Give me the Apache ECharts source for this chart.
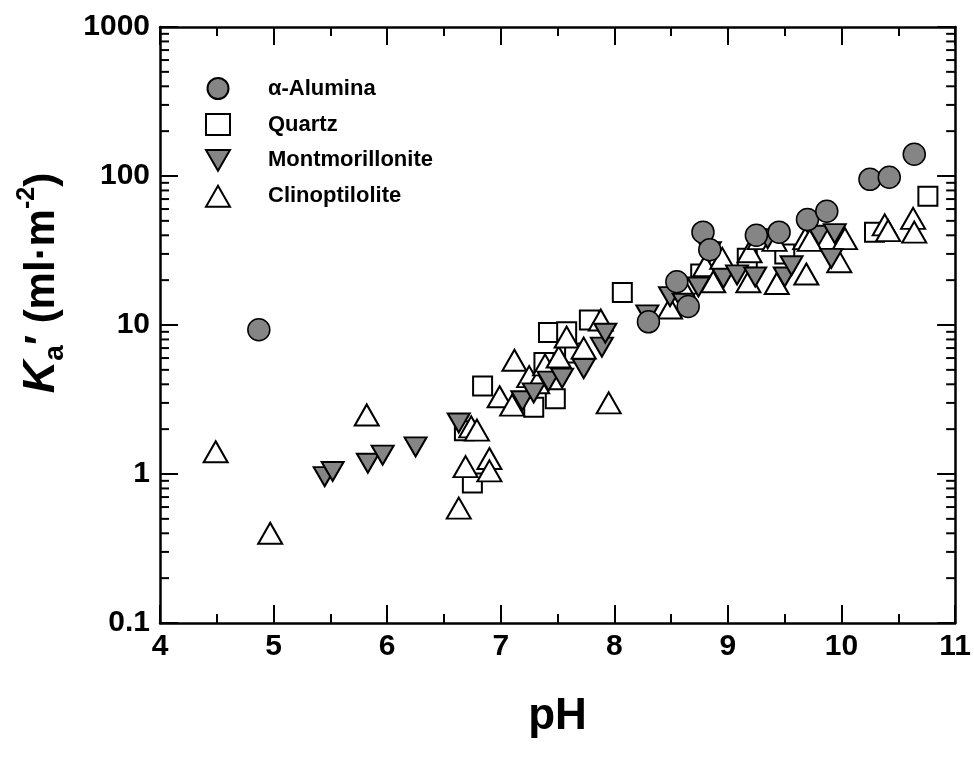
<!DOCTYPE html>
<html>
<head>
<meta charset="utf-8">
<script src="https://cdn.jsdelivr.net/npm/echarts@6/dist/echarts.min.js"></script>
<style>html,body{margin:0;padding:0;background:#fff;}#c{width:974px;height:760px;}</style>
</head>
<body>
<div id="c"></div>
<script>
// ---- data ----
const aluminaPH = [4.87, 8.30, 8.55, 8.65, 8.78, 8.84, 9.25, 9.45, 9.70, 9.87, 10.25, 10.42, 10.64];
const aluminaK  = [9.3, 10.5, 19.5, 13.3, 42, 32, 40, 42, 51, 58, 95, 98, 140];

const quartzPH = [6.75, 6.68, 6.84, 7.29, 7.38, 7.42, 7.48, 7.58, 7.65, 7.78, 8.07, 8.76, 9.17, 9.50, 10.29, 10.76];
const quartzK  = [0.87, 1.95, 3.9, 2.8, 5.6, 8.9, 3.2, 9.0, 6.5, 10.8, 16.5, 22, 28, 30, 42, 73];

const montPH = [5.45, 5.52, 5.83, 5.96, 6.25, 6.63, 7.19, 7.29, 7.42, 7.54, 7.73, 7.89, 7.92, 8.29, 8.49, 8.61, 8.74, 8.84, 8.96, 9.08, 9.24, 9.35, 9.50, 9.56, 9.80, 9.91, 9.94];
const montK  = [0.96, 1.04, 1.18, 1.34, 1.52, 2.2, 3.1, 3.5, 4.2, 4.4, 5.1, 7.1, 8.8, 11.7, 15.5, 14, 18, 31, 20.6, 21.7, 21, 38, 21, 25, 40, 28, 41];

const clinoPH = [4.49, 4.97, 5.82, 6.63, 6.69, 6.74, 6.79, 6.90, 6.90, 6.99, 7.10, 7.12, 7.25, 7.32, 7.39, 7.51, 7.58, 7.73, 7.88, 7.95, 8.49, 8.61, 8.80, 8.87, 8.95, 9.18, 9.19, 9.28, 9.41, 9.43, 9.68, 9.69, 9.72, 9.98, 10.03, 10.38, 10.41, 10.63, 10.64];
const clinoK  = [1.41, 0.40, 2.49, 0.59, 1.12, 2.07, 1.97, 1.27, 1.05, 3.3, 2.9, 5.8, 4.5, 4.1, 5.4, 6.1, 8.3, 7.0, 10.8, 3.0, 13, 17.6, 25, 19.5, 28, 19.5, 31, 38, 37, 19, 38, 22, 37, 26.6, 38, 47, 43, 52, 42];

const seriesNames = ['α-Alumina', 'Quartz', 'Montmorillonite', 'Clinoptilolite'];
const xTicks = [4, 5, 6, 7, 8, 9, 10, 11];
const yTickLabels = ['0.1', '1', '10', '100', '1000'];
const yMinorTicks = [0.2, 0.3, 0.4, 0.5, 0.6, 0.7, 0.8, 0.9,
                     2, 3, 4, 5, 6, 7, 8, 9,
                     20, 30, 40, 50, 60, 70, 80, 90,
                     200, 300, 400, 500, 600, 700, 800, 900];

function pairs(xs, ys) { return xs.map((x, i) => [x, ys[i]]); }

const FONT = '"Liberation Sans", Arial, sans-serif';
const downTri = 'path://M0,0L2,0L1,1.732Z';

const chart = echarts.init(document.getElementById('c'), null, {renderer: 'canvas'});

const axisLineStyle = {color: '#000', width: 2.5};

const option = {
  animation: false,
  backgroundColor: '#fff',
  grid: {left: 160, right: 17, top: 27, bottom: 137, containLabel: false},
  legend: {
    orient: 'vertical',
    left: 200,
    top: 72,
    itemWidth: 24,
    itemHeight: 21,
    itemGap: 13,
    data: [
      {name: seriesNames[0], icon: 'circle'},
      {name: seriesNames[1], icon: 'rect'},
      {name: seriesNames[2], icon: downTri},
      {name: seriesNames[3], icon: 'triangle'}
    ],
    textStyle: {fontFamily: FONT, fontWeight: 'bold', fontSize: 22, lineHeight: 22, color: '#000', padding: [0, 0, 0, 33]}
  },
  xAxis: [{
    type: 'value', min: 4, max: 11, interval: 1, position: 'bottom',
    axisLine: {show: true, lineStyle: axisLineStyle},
    axisTick: {show: true, inside: true, length: 18, lineStyle: {color: '#000', width: 2}},
    minorTick: {show: true, splitNumber: 2, length: 9, lineStyle: {color: '#000', width: 2}},
    splitLine: {show: false},
    axisLabel: {margin: 9, fontFamily: FONT, fontWeight: 'bold', fontSize: 30, color: '#000',
      formatter: v => xTicks.indexOf(v) >= 0 ? String(v) : ''},
    name: 'pH', nameLocation: 'middle', nameGap: 72,
    nameTextStyle: {fontFamily: FONT, fontWeight: 'bold', fontSize: 44, color: '#000'}
  }, {
    type: 'value', min: 4, max: 11, interval: 1, position: 'top',
    axisLine: {show: true, lineStyle: axisLineStyle},
    axisTick: {show: true, inside: true, length: 18, lineStyle: {color: '#000', width: 2}},
    minorTick: {show: true, splitNumber: 2, length: 9, lineStyle: {color: '#000', width: 2}},
    splitLine: {show: false},
    axisLabel: {show: false}
  }],
  yAxis: [{
    type: 'log', logBase: 10, min: 0.1, max: 1000, position: 'left',
    axisLine: {show: true, lineStyle: axisLineStyle},
    axisTick: {show: true, inside: true, length: 18, lineStyle: {color: '#000', width: 2}},
    splitLine: {show: false},
    axisLabel: {margin: 10, fontFamily: FONT, fontWeight: 'bold', fontSize: 30, color: '#000',
      formatter: function (v) {
        const l = Math.round(Math.log10(v)) + 1;
        return yTickLabels[l] !== undefined ? yTickLabels[l] : '';
      }}
  }, {
    type: 'log', logBase: 10, min: 0.1, max: 1000, position: 'right',
    axisLine: {show: true, lineStyle: axisLineStyle},
    axisTick: {show: true, inside: true, length: 18, lineStyle: {color: '#000', width: 2}},
    splitLine: {show: false},
    axisLabel: {show: false}
  }],
  graphic: [{
    type: 'text',
    x: 42, y: 283,
    rotation: Math.PI / 2,
    style: {
      text: '{k|K}{s|a}{n|\u2032 (ml·m}{p|-2}{n|)}',
      align: 'center', verticalAlign: 'middle',
      rich: {
        k: {fontFamily: FONT, fontWeight: 'bold', fontStyle: 'italic', fontSize: 45, lineHeight: 54, verticalAlign: 'middle', fill: '#000'},
        s: {fontFamily: FONT, fontWeight: 'bold', fontSize: 28, lineHeight: 54, verticalAlign: 'bottom', fill: '#000'},
        n: {fontFamily: FONT, fontWeight: 'bold', fontSize: 42, lineHeight: 54, verticalAlign: 'middle', fill: '#000'},
        p: {fontFamily: FONT, fontWeight: 'bold', fontSize: 25, lineHeight: 54, verticalAlign: 'top', fill: '#000'}
      }
    }
  }],
  series: [
    {
      name: seriesNames[1], type: 'scatter', data: pairs(quartzPH, quartzK),
      symbol: 'rect', symbolSize: 19,
      itemStyle: {color: '#fff', borderColor: '#000', borderWidth: 2, opacity: 1}
    },
    {
      name: seriesNames[3], type: 'scatter', data: pairs(clinoPH, clinoK),
      symbol: 'triangle', symbolSize: [24, 21],
      itemStyle: {color: '#fff', borderColor: '#000', borderWidth: 2, opacity: 1}
    },
    {
      name: seriesNames[2], type: 'scatter', data: pairs(montPH, montK),
      symbol: downTri, symbolSize: [22, 19],
      itemStyle: {color: '#858585', borderColor: '#000', borderWidth: 2, opacity: 1}
    },
    {
      name: seriesNames[0], type: 'scatter', data: pairs(aluminaPH, aluminaK),
      symbol: 'circle', symbolSize: 22,
      itemStyle: {color: '#858585', borderColor: '#000', borderWidth: 1.5, opacity: 1}
    },
    {
      name: 'yMinorTicks', type: 'custom', silent: true, z: 5,
      data: yMinorTicks.map(v => [4, v]),
      renderItem: function (params, api) {
        const v = api.value(1);
        const pL = api.coord([4, v]);
        const pR = api.coord([11, v]);
        const st = {stroke: '#000', lineWidth: 2};
        return {
          type: 'group',
          children: [
            {type: 'line', shape: {x1: pL[0], y1: pL[1], x2: pL[0] + 9, y2: pL[1]}, style: st},
            {type: 'line', shape: {x1: pR[0], y1: pR[1], x2: pR[0] - 9, y2: pR[1]}, style: st}
          ]
        };
      }
    }
  ]
};
chart.setOption(option);
</script>
</body>
</html>
